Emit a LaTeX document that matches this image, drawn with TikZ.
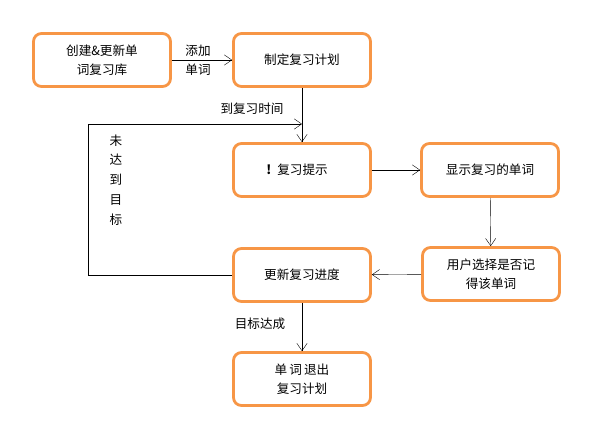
\documentclass[tikz,border=0pt]{standalone}
\usepackage{fontspec}
\setmainfont{Noto Sans CJK SC}
\usetikzlibrary{arrows.meta}
\definecolor{boxline}{RGB}{247,150,70}

\begin{document}
\begin{tikzpicture}[x=1pt, y=-1pt, every node/.style={font=\fontsize{12.6}{19}\selectfont},
	>={Straight Barb[length=2.6mm, width=3.6mm]},
	stagebox/.style={draw=boxline, line width=2.8pt, rounded corners=8pt, fill=white,
		minimum width=137pt, minimum height=53pt, align=center, inner sep=2pt}]
	\useasboundingbox (0,0) rectangle (594,426);
	\node[stagebox] (build) at (102,60) {创建\&更新单\\词复习库};
	\node[stagebox] (plan) at (302,60) {制定复习计划};
	\node[stagebox] (remind) at (302,170) {\hspace*{-10pt}\textbf{!}\hspace{6pt}复习提示};
	\node[stagebox] (show) at (490,170) {显示复习的单词};
	\node[stagebox] (choose) at (491,274) {用户选择是否记\\得该单词};
	\node[stagebox] (update) at (302,275) {更新复习进度};
	\node[stagebox] (quit) at (302,379) {单\,词\,退出\\复习计划};
	\coordinate (merge) at (302,124);
	\coordinate (loopdown) at (88,275);
	\coordinate (loopup) at (88,124);
	\draw[->] (build) -- (plan) node[midway, xshift=-4pt, align=center] {添加\\单词};
	\draw[->] (plan) -- (remind);
	\draw[->] (update.west) -- (loopdown) -- (loopup) -- (merge);
	\draw[->] (remind) -- (show);
	\draw[->] (show) -- (choose);
	\draw[->] (choose) -- (update);
	\draw[->] (update) -- (quit);
	\node (timelabel) at (252,109) {到复习时间};
	\node (donelabel) at (260,324) {目标达成};
	\node[align=center, font=\fontsize{12.6}{19.8}\selectfont] (notdone) at (116,180) {未\\达\\到\\目\\标};
\end{tikzpicture}
\end{document}
